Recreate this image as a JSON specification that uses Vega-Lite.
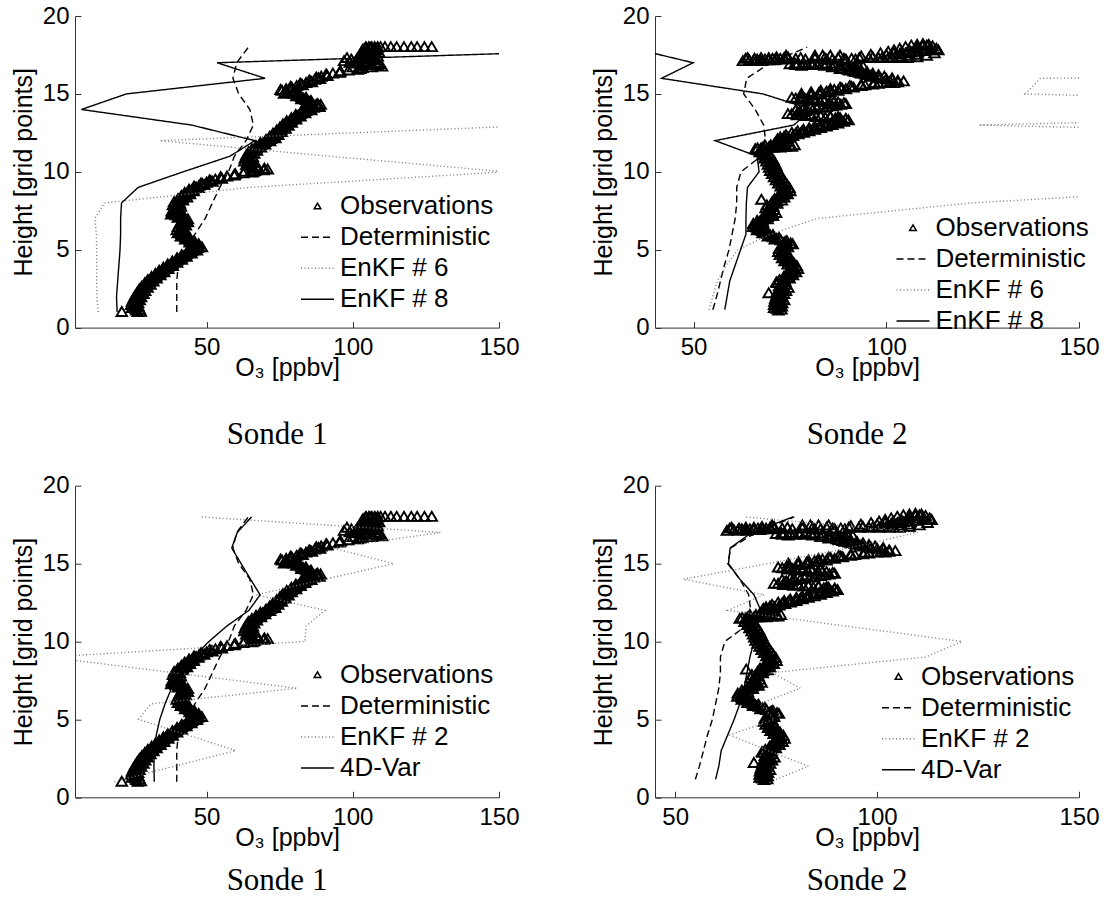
{
"$schema":"https://vega.github.io/schema/vega-lite/v6.json",
"background":"white",
"padding":{"left":11,"top":4,"right":0,"bottom":0},
"datasets":{
"o1":[{"h":1.0,"v":21},{"h":1.0,"v":26.5},{"h":1.02,"v":27.5},{"h":1.1,"v":26},{"h":1.2,"v":25.8},{"h":1.3,"v":25.5},{"h":1.4,"v":25.5},{"h":1.5,"v":25.3},{"h":1.6,"v":25.5},{"h":1.7,"v":25.8},{"h":1.8,"v":26},{"h":1.9,"v":26.3},{"h":2.0,"v":26.6},{"h":2.1,"v":27},{"h":2.2,"v":27.3},{"h":2.3,"v":27.6},{"h":2.4,"v":28},{"h":2.5,"v":28.4},{"h":2.6,"v":28.8},{"h":2.7,"v":29.3},{"h":2.8,"v":29.8},{"h":2.9,"v":30.3},{"h":3.0,"v":30.8},{"h":3.1,"v":31.4},{"h":3.2,"v":32},{"h":3.3,"v":32.7},{"h":3.4,"v":33.3},{"h":3.5,"v":34},{"h":3.6,"v":34.6},{"h":3.7,"v":35.3},{"h":3.8,"v":36},{"h":3.9,"v":36.8},{"h":4.0,"v":37.5},{"h":4.1,"v":38.3},{"h":4.2,"v":39.1},{"h":4.3,"v":39.9},{"h":4.4,"v":40.7},{"h":4.5,"v":41.5},{"h":4.6,"v":42.3},{"h":4.7,"v":43.1},{"h":4.8,"v":44},{"h":4.9,"v":45},{"h":5.0,"v":46},{"h":5.1,"v":47},{"h":5.2,"v":47.3},{"h":5.3,"v":46.5},{"h":5.4,"v":45.7},{"h":5.5,"v":45},{"h":5.6,"v":44.2},{"h":5.7,"v":43.5},{"h":5.8,"v":42.7},{"h":5.9,"v":42},{"h":6.0,"v":41.5},{"h":6.1,"v":41.2},{"h":6.2,"v":41},{"h":6.3,"v":41},{"h":6.4,"v":41.2},{"h":6.5,"v":41.5},{"h":6.6,"v":41.8},{"h":6.7,"v":42.2},{"h":6.8,"v":42.6},{"h":6.9,"v":42.8},{"h":7.0,"v":42},{"h":7.1,"v":40.8},{"h":7.2,"v":39.5},{"h":7.3,"v":38.6},{"h":7.4,"v":39},{"h":7.5,"v":39.6},{"h":7.6,"v":40},{"h":7.7,"v":40.2},{"h":7.8,"v":39.8},{"h":7.9,"v":39.6},{"h":8.0,"v":39.8},{"h":8.1,"v":40.4},{"h":8.2,"v":41},{"h":8.3,"v":41.8},{"h":8.4,"v":42.3},{"h":8.5,"v":42.8},{"h":8.6,"v":43.4},{"h":8.7,"v":44},{"h":8.8,"v":44.8},{"h":8.9,"v":45.5},{"h":9.0,"v":46.4},{"h":9.1,"v":47.4},{"h":9.2,"v":48.6},{"h":9.3,"v":50},{"h":9.4,"v":51.5},{"h":9.5,"v":53},{"h":9.6,"v":55},{"h":9.7,"v":57},{"h":9.8,"v":59.5},{"h":9.9,"v":62.5},{"h":10.0,"v":66},{"h":10.0,"v":63},{"h":10.1,"v":69.5},{"h":10.1,"v":65.5},{"h":10.2,"v":69.8},{"h":10.2,"v":67.5},{"h":10.3,"v":67},{"h":10.4,"v":65.2},{"h":10.5,"v":64.5},{"h":10.6,"v":64.2},{"h":10.7,"v":64},{"h":10.8,"v":64.2},{"h":10.9,"v":64.4},{"h":11.0,"v":64.7},{"h":11.1,"v":65},{"h":11.2,"v":65.3},{"h":11.3,"v":65.7},{"h":11.4,"v":66.3},{"h":11.5,"v":67},{"h":11.6,"v":67.7},{"h":11.7,"v":68.5},{"h":11.8,"v":69.2},{"h":11.9,"v":70},{"h":12.0,"v":71},{"h":12.1,"v":72},{"h":12.2,"v":72.6},{"h":12.3,"v":73.1},{"h":12.4,"v":73.6},{"h":12.5,"v":74.2},{"h":12.6,"v":74.8},{"h":12.7,"v":75.5},{"h":12.8,"v":76},{"h":12.9,"v":76.6},{"h":13.0,"v":77.1},{"h":13.1,"v":77.6},{"h":13.2,"v":78.3},{"h":13.3,"v":79},{"h":13.4,"v":79.8},{"h":13.5,"v":80.5},{"h":13.6,"v":81.3},{"h":13.7,"v":82.1},{"h":13.8,"v":83},{"h":13.9,"v":84},{"h":14.0,"v":85.2},{"h":14.1,"v":86.6},{"h":14.2,"v":88.3},{"h":14.2,"v":85.5},{"h":14.3,"v":87.5},{"h":14.3,"v":89},{"h":14.4,"v":86},{"h":14.5,"v":85},{"h":14.6,"v":84},{"h":14.7,"v":83.2},{"h":14.8,"v":82.4},{"h":14.9,"v":81.5},{"h":15.0,"v":79.5},{"h":15.0,"v":76.5},{"h":15.1,"v":77},{"h":15.1,"v":80},{"h":15.2,"v":75.8},{"h":15.2,"v":78.5},{"h":15.3,"v":77.2},{"h":15.4,"v":79},{"h":15.5,"v":80.8},{"h":15.6,"v":82.5},{"h":15.7,"v":84},{"h":15.8,"v":85.6},{"h":15.9,"v":87},{"h":16.0,"v":88.2},{"h":16.1,"v":89.2},{"h":16.2,"v":91},{"h":16.3,"v":93.2},{"h":16.4,"v":95.5},{"h":16.5,"v":98.5},{"h":16.6,"v":102.5},{"h":16.7,"v":106.5},{"h":16.7,"v":100},{"h":16.8,"v":108.5},{"h":16.8,"v":103},{"h":16.9,"v":104.5},{"h":16.9,"v":109},{"h":17.0,"v":99},{"h":17.0,"v":104},{"h":17.0,"v":108},{"h":17.1,"v":97},{"h":17.1,"v":101},{"h":17.1,"v":105},{"h":17.2,"v":99.5},{"h":17.2,"v":104},{"h":17.2,"v":108},{"h":17.3,"v":102.5},{"h":17.3,"v":98},{"h":17.3,"v":107},{"h":17.4,"v":104.5},{"h":17.4,"v":108.5},{"h":17.5,"v":106},{"h":17.5,"v":103.5},{"h":17.6,"v":107.5},{"h":17.6,"v":104},{"h":17.7,"v":106.5},{"h":17.7,"v":103},{"h":17.8,"v":105},{"h":17.8,"v":108},{"h":17.9,"v":104.2},{"h":17.95,"v":106},{"h":17.95,"v":108.5},{"h":18.0,"v":104.5},{"h":18.0,"v":105.5},{"h":18.0,"v":106.5},{"h":18.0,"v":107.5},{"h":18.0,"v":108.5},{"h":18.0,"v":109.5},{"h":18.0,"v":111},{"h":18.0,"v":113},{"h":18.0,"v":115},{"h":18.0,"v":117.5},{"h":18.0,"v":120},{"h":18.0,"v":122},{"h":18.0,"v":124.5},{"h":18.0,"v":127},
{"h":1.15,"v":27.1},{"h":1.25,"v":24.5},{"h":1.35,"v":26.7},{"h":1.45,"v":24.2},{"h":1.55,"v":26.6},{"h":1.65,"v":24.5},{"h":1.75,"v":27.1},{"h":1.85,"v":25},{"h":1.95,"v":27.6},{"h":2.05,"v":25.6},{"h":2.15,"v":28.4},{"h":2.25,"v":26.3},{"h":2.35,"v":29},{"h":2.45,"v":27},{"h":2.55,"v":29.8},{"h":2.65,"v":27.9},{"h":2.75,"v":30.8},{"h":2.85,"v":28.9},{"h":2.95,"v":31.8},{"h":3.05,"v":29.9},{"h":3.15,"v":32.9},{"h":3.25,"v":31.2},{"h":3.35,"v":34.2},{"h":3.45,"v":32.5},{"h":3.55,"v":35.5},{"h":3.65,"v":33.8},{"h":3.75,"v":36.9},{"h":3.85,"v":35.2},{"h":3.95,"v":38.4},{"h":4.05,"v":36.7},{"h":4.15,"v":39.9},{"h":4.25,"v":38.3},{"h":4.35,"v":41.5},{"h":4.45,"v":39.9},{"h":4.55,"v":43.1},{"h":4.65,"v":41.5},{"h":4.75,"v":44.8},{"h":4.85,"v":43.3},{"h":4.95,"v":46.7},{"h":5.05,"v":45.3},{"h":5.15,"v":48.4},{"h":5.25,"v":45.7},{"h":5.35,"v":47.3},{"h":5.45,"v":44.2},{"h":5.55,"v":45.8},{"h":5.65,"v":42.7},{"h":5.75,"v":44.3},{"h":5.85,"v":41.2},{"h":5.95,"v":43},{"h":6.05,"v":40.2},{"h":6.15,"v":42.3},{"h":6.25,"v":39.8},{"h":6.35,"v":42.3},{"h":6.45,"v":40.2},{"h":6.55,"v":42.9},{"h":6.65,"v":40.8},{"h":6.75,"v":43.6},{"h":6.85,"v":41.5},{"h":6.95,"v":43.6},{"h":7.05,"v":40.2},{"h":7.15,"v":41.4},{"h":7.25,"v":37.9},{"h":7.35,"v":40},{"h":7.45,"v":38.1},{"h":7.55,"v":41},{"h":7.65,"v":38.9},{"h":7.75,"v":41.2},{"h":7.85,"v":38.5},{"h":7.95,"v":40.9},{"h":8.05,"v":38.9},{"h":8.15,"v":41.9},{"h":8.25,"v":40.2},{"h":8.35,"v":43.3},{"h":8.45,"v":41.4},{"h":8.55,"v":44.3},{"h":8.65,"v":42.5},{"h":8.75,"v":45.6},{"h":8.85,"v":44},{"h":8.95,"v":47.2},{"h":9.05,"v":45.7},{"h":9.15,"v":49.2},{"h":9.25,"v":48.1},{"h":9.35,"v":52},{"h":9.45,"v":51},{"h":9.55,"v":55.2},{"h":9.65,"v":54.8},{"h":9.75,"v":59.5},{"h":9.85,"v":59.8},{"h":9.95,"v":65.5},{"h":10.05,"v":66.5},{"h":10.15,"v":70.9},{"h":10.25,"v":67.2},{"h":10.35,"v":67.3},{"h":10.45,"v":63.6},{"h":10.55,"v":65.5},{"h":10.65,"v":62.9},{"h":10.75,"v":65.3},{"h":10.85,"v":63.1},{"h":10.95,"v":65.8},{"h":11.05,"v":63.6},{"h":11.15,"v":66.3},{"h":11.25,"v":64.3},{"h":11.35,"v":67.2},{"h":11.45,"v":65.5},{"h":11.55,"v":68.6},{"h":11.65,"v":66.9},{"h":11.75,"v":70},{"h":11.85,"v":68.4},{"h":11.95,"v":71.7},{"h":12.05,"v":70.3},{"h":12.15,"v":73.5},{"h":12.25,"v":71.6},{"h":12.35,"v":74.5},{"h":12.45,"v":72.7},{"h":12.55,"v":75.7},{"h":12.65,"v":74},{"h":12.75,"v":77},{"h":12.85,"v":75.1},{"h":12.95,"v":78},{"h":13.05,"v":76.1},{"h":13.15,"v":79.1},{"h":13.25,"v":77.4},{"h":13.35,"v":80.6},{"h":13.45,"v":79},{"h":13.55,"v":82.1},{"h":13.65,"v":80.5},{"h":13.75,"v":83.7},{"h":13.85,"v":82.3},{"h":13.95,"v":85.8},{"h":14.05,"v":84.7},{"h":14.15,"v":88.6},{"h":14.25,"v":86.7},{"h":14.35,"v":88},{"h":14.45,"v":84.3},{"h":14.55,"v":85.7},{"h":14.65,"v":82.4},{"h":14.75,"v":84},{"h":14.85,"v":80.7},{"h":14.95,"v":81.7},{"h":15.05,"v":77},{"h":15.15,"v":77.6},{"h":15.25,"v":75.3},{"h":15.35,"v":79.3},{"h":15.45,"v":78.7},{"h":15.55,"v":82.8},{"h":15.65,"v":82},{"h":15.75,"v":86},{"h":15.85,"v":85.1},{"h":15.95,"v":88.8},{"h":16.05,"v":87.5},{"h":16.15,"v":91.3},{"h":16.25,"v":90.9},{"h":16.35,"v":95.5},{"h":16.45,"v":95.8},{"h":16.55,"v":101.7},{"h":16.65,"v":103.3},{"h":16.75,"v":110},{"h":16.85,"v":106.5},{"h":16.95,"v":101.5},{"h":17.05,"v":102},{"h":17.15,"v":107},{"h":17.25,"v":101.5},{"h":17.35,"v":105},{"h":17.45,"v":106.5},{"h":17.55,"v":105},{"h":17.65,"v":109},{"h":17.75,"v":107},{"h":17.85,"v":103.5},{"h":17.9,"v":107.5}],
"o2":[{"h":1.1,"v":72},{"h":1.2,"v":71.6},{"h":1.3,"v":72.2},{"h":1.4,"v":71.6},{"h":1.5,"v":72.2},{"h":1.6,"v":71.7},{"h":1.7,"v":72.3},{"h":1.8,"v":72.6},{"h":1.9,"v":71.8},{"h":2.0,"v":72.2},{"h":2.1,"v":72.8},{"h":2.2,"v":69.5},{"h":2.3,"v":72.6},{"h":2.4,"v":73.3},{"h":2.5,"v":73.7},{"h":2.6,"v":73.4},{"h":2.7,"v":73},{"h":2.8,"v":72.6},{"h":2.9,"v":71.5},{"h":3.0,"v":73},{"h":3.1,"v":73.6},{"h":3.2,"v":74.2},{"h":3.3,"v":74.6},{"h":3.4,"v":75},{"h":3.5,"v":75.4},{"h":3.6,"v":75.7},{"h":3.7,"v":76},{"h":3.8,"v":76.2},{"h":3.9,"v":76},{"h":4.0,"v":75.6},{"h":4.1,"v":75.2},{"h":4.2,"v":74.8},{"h":4.3,"v":74.4},{"h":4.4,"v":74.1},{"h":4.5,"v":73.8},{"h":4.6,"v":73.5},{"h":4.7,"v":73.3},{"h":4.8,"v":73.1},{"h":4.9,"v":73},{"h":5.0,"v":73},{"h":5.1,"v":73.3},{"h":5.2,"v":73.7},{"h":5.3,"v":74.2},{"h":5.4,"v":75.2},{"h":5.5,"v":73.8},{"h":5.6,"v":72.6},{"h":5.7,"v":71.6},{"h":5.8,"v":70.7},{"h":5.9,"v":69.9},{"h":6.0,"v":69.2},{"h":6.1,"v":68.5},{"h":6.2,"v":67.8},{"h":6.3,"v":67.1},{"h":6.4,"v":66.5},{"h":6.5,"v":66.2},{"h":6.6,"v":66.3},{"h":6.7,"v":66.7},{"h":6.8,"v":67.2},{"h":6.9,"v":67.8},{"h":7.0,"v":68.5},{"h":7.1,"v":69.2},{"h":7.2,"v":69.9},{"h":7.3,"v":70.5},{"h":7.4,"v":70.3},{"h":7.5,"v":70},{"h":7.6,"v":69.7},{"h":7.7,"v":69.6},{"h":7.8,"v":69.8},{"h":7.9,"v":70.3},{"h":8.0,"v":71},{"h":8.1,"v":71.7},{"h":8.2,"v":67.6},{"h":8.3,"v":72.2},{"h":8.4,"v":72.7},{"h":8.5,"v":73.2},{"h":8.6,"v":73.6},{"h":8.7,"v":74},{"h":8.8,"v":74.2},{"h":8.9,"v":74},{"h":9.0,"v":73.7},{"h":9.1,"v":73.4},{"h":9.2,"v":73.1},{"h":9.3,"v":72.8},{"h":9.4,"v":72.5},{"h":9.5,"v":72.3},{"h":9.6,"v":72},{"h":9.7,"v":71.8},{"h":9.8,"v":71.5},{"h":9.9,"v":71.3},{"h":10.0,"v":71},{"h":10.1,"v":70.8},{"h":10.2,"v":70.6},{"h":10.3,"v":70.5},{"h":10.4,"v":70.4},{"h":10.5,"v":70.2},{"h":10.6,"v":70},{"h":10.7,"v":69.8},{"h":10.8,"v":69.5},{"h":10.9,"v":69.2},{"h":11.0,"v":69},{"h":11.1,"v":68.7},{"h":11.2,"v":68.4},{"h":11.3,"v":68},{"h":11.4,"v":67.4},{"h":11.5,"v":66.6},{"h":11.55,"v":68},{"h":11.55,"v":69.5},{"h":11.55,"v":71},{"h":11.55,"v":72.5},{"h":11.6,"v":74},{"h":11.6,"v":75.5},{"h":11.7,"v":70},{"h":11.75,"v":72.5},{"h":11.8,"v":71},{"h":11.9,"v":71.8},{"h":12.0,"v":72.5},{"h":12.1,"v":73.3},{"h":12.2,"v":74.5},{"h":12.3,"v":75.8},{"h":12.4,"v":77.2},{"h":12.5,"v":78.6},{"h":12.6,"v":80},{"h":12.7,"v":81.5},{"h":12.8,"v":83},{"h":12.9,"v":84.5},{"h":13.0,"v":86},{"h":13.1,"v":87.5},{"h":13.2,"v":89},{"h":13.3,"v":90.2},{"h":13.45,"v":88},{"h":13.5,"v":85.5},{"h":13.55,"v":83},{"h":13.6,"v":80.5},{"h":13.65,"v":78},{"h":13.7,"v":75.5},{"h":13.8,"v":77},{"h":13.9,"v":79},{"h":14.0,"v":81},{"h":14.1,"v":83.5},{"h":14.2,"v":86},{"h":14.3,"v":88.2},{"h":14.4,"v":89},{"h":14.5,"v":86.5},{"h":14.55,"v":84},{"h":14.6,"v":81.5},{"h":14.65,"v":79},{"h":14.7,"v":76.5},{"h":14.75,"v":75.5},{"h":14.8,"v":78},{"h":14.9,"v":80.5},{"h":15.0,"v":83},{"h":15.1,"v":85.5},{"h":15.2,"v":87.5},{"h":15.3,"v":89.5},{"h":15.4,"v":91.5},{"h":15.5,"v":93.5},{"h":15.6,"v":96.5},{"h":15.7,"v":100},{"h":15.75,"v":103},{"h":15.8,"v":104.5},{"h":15.9,"v":101.5},{"h":16.0,"v":98.5},{"h":16.1,"v":96.5},{"h":16.2,"v":95},{"h":16.3,"v":93.5},{"h":16.4,"v":92},{"h":16.5,"v":90.5},{"h":16.6,"v":88},{"h":16.7,"v":86},{"h":16.75,"v":94},{"h":16.8,"v":84},{"h":16.8,"v":92},{"h":16.85,"v":82},{"h":16.85,"v":79.5},{"h":16.85,"v":90},{"h":16.9,"v":77},{"h":16.9,"v":75},{"h":16.95,"v":80.5},{"h":16.95,"v":83.5},{"h":16.95,"v":86.5},{"h":17.1,"v":62.8},{"h":17.1,"v":65.5},{"h":17.15,"v":64.5},{"h":17.15,"v":69.5},{"h":17.2,"v":66.5},{"h":17.2,"v":68.5},{"h":17.2,"v":71.5},{"h":17.25,"v":70.5},{"h":17.25,"v":72.5},{"h":17.3,"v":64},{"h":17.3,"v":67.5},{"h":17.35,"v":74.5},{"h":17.2,"v":79},{"h":17.2,"v":86},{"h":17.2,"v":89.5},{"h":17.45,"v":74},{"h":17.45,"v":81.5},{"h":17.45,"v":83.5},{"h":17.45,"v":85.5},{"h":17.45,"v":88},{"h":17.25,"v":91},{"h":17.3,"v":93},{"h":17.3,"v":95.5},{"h":17.3,"v":98},{"h":17.3,"v":100.5},{"h":17.3,"v":103},{"h":17.3,"v":105.5},{"h":17.35,"v":108},{"h":17.45,"v":110.5},{"h":17.6,"v":112.5},{"h":17.8,"v":113.5},{"h":17.4,"v":93.5},{"h":17.5,"v":96},{"h":17.6,"v":98.5},{"h":17.7,"v":100.5},{"h":17.8,"v":102},{"h":17.9,"v":103.5},{"h":18.0,"v":105},{"h":18.1,"v":106.5},{"h":18.15,"v":108},{"h":18.2,"v":109.5},{"h":18.15,"v":111},{"h":18.05,"v":112},{"h":17.9,"v":113},{"h":17.6,"v":105},{"h":17.7,"v":108},{"h":17.9,"v":110},
{"h":1.15,"v":72.8},{"h":1.25,"v":70.9},{"h":1.35,"v":72.9},{"h":1.45,"v":70.9},{"h":1.55,"v":73},{"h":1.65,"v":71},{"h":1.75,"v":73.5},{"h":1.85,"v":71.2},{"h":1.95,"v":73},{"h":2.05,"v":71.5},{"h":2.15,"v":73.5},{"h":2.25,"v":71.6},{"h":2.35,"v":74},{"h":2.45,"v":72.5},{"h":2.55,"v":74.6},{"h":2.65,"v":72.2},{"h":2.75,"v":73.8},{"h":2.85,"v":71.7},{"h":2.95,"v":73.8},{"h":3.05,"v":72.3},{"h":3.15,"v":74.9},{"h":3.25,"v":73.4},{"h":3.35,"v":75.8},{"h":3.45,"v":74.2},{"h":3.55,"v":76.6},{"h":3.65,"v":74.9},{"h":3.75,"v":77.1},{"h":3.85,"v":75.1},{"h":3.95,"v":76.8},{"h":4.05,"v":74.4},{"h":4.15,"v":76},{"h":4.25,"v":73.6},{"h":4.35,"v":75.3},{"h":4.45,"v":73},{"h":4.55,"v":74.7},{"h":4.65,"v":72.4},{"h":4.75,"v":74.2},{"h":4.85,"v":72},{"h":4.95,"v":74},{"h":5.05,"v":72.2},{"h":5.15,"v":74.5},{"h":5.25,"v":73},{"h":5.35,"v":75.7},{"h":5.45,"v":73.5},{"h":5.55,"v":74.2},{"h":5.65,"v":71.1},{"h":5.75,"v":72.2},{"h":5.85,"v":69.3},{"h":5.95,"v":70.6},{"h":6.05,"v":67.9},{"h":6.15,"v":69.2},{"h":6.25,"v":66.5},{"h":6.35,"v":67.8},{"h":6.45,"v":65.4},{"h":6.55,"v":67.3},{"h":6.65,"v":65.5},{"h":6.75,"v":68},{"h":6.85,"v":66.5},{"h":6.95,"v":69.2},{"h":7.05,"v":67.9},{"h":7.15,"v":70.6},{"h":7.25,"v":69.2},{"h":7.35,"v":71.4},{"h":7.45,"v":69.2},{"h":7.55,"v":70.9},{"h":7.65,"v":68.7},{"h":7.75,"v":70.7},{"h":7.85,"v":69},{"h":7.95,"v":71.7},{"h":8.05,"v":70.4},{"h":8.15,"v":72.9},{"h":8.25,"v":71},{"h":8.35,"v":73.5},{"h":8.45,"v":72},{"h":8.55,"v":74.4},{"h":8.65,"v":72.8},{"h":8.75,"v":75.1},{"h":8.85,"v":73.1},{"h":8.95,"v":74.9},{"h":9.05,"v":72.6},{"h":9.15,"v":74.3},{"h":9.25,"v":72},{"h":9.35,"v":73.7},{"h":9.45,"v":71.4},{"h":9.55,"v":73.2},{"h":9.65,"v":70.9},{"h":9.75,"v":72.7},{"h":9.85,"v":70.4},{"h":9.95,"v":72.2},{"h":10.05,"v":69.9},{"h":10.15,"v":71.7},{"h":10.25,"v":69.6},{"h":10.35,"v":71.5},{"h":10.45,"v":69.3},{"h":10.55,"v":71.1},{"h":10.65,"v":68.9},{"h":10.75,"v":70.7},{"h":10.85,"v":68.4},{"h":10.95,"v":70.1},{"h":11.05,"v":67.9},{"h":11.15,"v":69.6},{"h":11.25,"v":67.2},{"h":11.35,"v":68.7},{"h":11.45,"v":66},
{"h":11.5,"v":67.5},{"h":11.55,"v":70.2},{"h":11.6,"v":71.8},{"h":11.65,"v":73.2},{"h":11.65,"v":75},{"h":11.7,"v":76.2},{"h":11.7,"v":68.5},
{"h":12.2,"v":72.5},{"h":12.35,"v":74},{"h":12.5,"v":75.5},{"h":12.6,"v":77},{"h":12.7,"v":78.5},{"h":12.8,"v":80},{"h":12.9,"v":81.5},{"h":13.0,"v":83},{"h":13.1,"v":84.5},{"h":13.2,"v":86},{"h":13.3,"v":87.5},{"h":13.4,"v":89.5},
{"h":13.42,"v":86.8},{"h":13.47,"v":84.2},{"h":13.52,"v":81.8},{"h":13.57,"v":79.3},{"h":13.62,"v":76.8},{"h":13.7,"v":74.5},
{"h":13.95,"v":76.5},{"h":14.05,"v":78.5},{"h":14.15,"v":80.5},{"h":14.25,"v":82.5},{"h":14.35,"v":85},{"h":14.45,"v":87.5},
{"h":14.47,"v":85.3},{"h":14.52,"v":82.8},{"h":14.57,"v":80.2},{"h":14.62,"v":77.8},
{"h":15.0,"v":78},{"h":15.1,"v":80.5},{"h":15.2,"v":83},{"h":15.3,"v":85.5},{"h":15.4,"v":88},{"h":15.5,"v":90.5},{"h":15.6,"v":93.5},{"h":15.7,"v":97},{"h":15.78,"v":101},
{"h":16.0,"v":101.5},{"h":16.1,"v":99.5},{"h":16.2,"v":98},{"h":16.3,"v":96.5},{"h":16.4,"v":95},{"h":16.5,"v":93.5},{"h":16.6,"v":92},{"h":16.7,"v":90.5},
{"h":16.8,"v":86.5},{"h":16.85,"v":88},{"h":16.9,"v":84.5},{"h":16.95,"v":78.5},{"h":16.9,"v":81},{"h":16.95,"v":76.3},
{"h":17.15,"v":67.3},{"h":17.25,"v":63.5},{"h":17.25,"v":65.8},{"h":17.3,"v":69.5},{"h":17.35,"v":71.5},{"h":17.3,"v":73.5},{"h":17.1,"v":67.8},{"h":17.15,"v":71},{"h":17.2,"v":73.8},{"h":17.25,"v":76.5},{"h":17.3,"v":77.8},{"h":17.25,"v":81.5},{"h":17.3,"v":84},{"h":17.2,"v":84.5},{"h":17.3,"v":87.5},{"h":17.25,"v":89},{"h":17.2,"v":92},{"h":17.35,"v":96.5},{"h":17.35,"v":99},{"h":17.35,"v":101.5},{"h":17.4,"v":104},{"h":17.45,"v":106},{"h":17.5,"v":108},{"h":17.55,"v":103.5},{"h":17.65,"v":106.5},{"h":17.75,"v":110},{"h":17.8,"v":111.5},{"h":18.0,"v":108},{"h":18.05,"v":109.5},{"h":18.1,"v":110.5},{"h":17.95,"v":111.5},
{"h":12.1,"v":71.8},{"h":12.25,"v":73.5},{"h":12.45,"v":76.5},{"h":12.55,"v":78},{"h":12.75,"v":81},{"h":12.85,"v":82.5},{"h":13.05,"v":85.5},{"h":13.15,"v":87},{"h":13.25,"v":88.5},{"h":13.35,"v":89.5},
{"h":13.5,"v":87.5},{"h":13.55,"v":85.5},{"h":13.6,"v":83},{"h":13.65,"v":80.5},{"h":13.7,"v":78},
{"h":13.85,"v":77.5},{"h":13.95,"v":79.5},{"h":14.05,"v":82},{"h":14.15,"v":84.5},{"h":14.25,"v":87},{"h":14.35,"v":89.5},
{"h":14.6,"v":86},{"h":14.65,"v":83.5},{"h":14.7,"v":81},{"h":14.75,"v":78.5},
{"h":14.95,"v":80.5},{"h":15.05,"v":82.5},{"h":15.15,"v":84.5},{"h":15.25,"v":86.5},{"h":15.35,"v":88.5},{"h":15.45,"v":91},{"h":15.55,"v":94.5},{"h":15.65,"v":98},{"h":15.7,"v":102},
{"h":15.85,"v":103},{"h":15.95,"v":100},{"h":16.05,"v":98},{"h":16.15,"v":96},{"h":16.25,"v":94.5},{"h":16.35,"v":93},{"h":16.45,"v":91.5},{"h":16.55,"v":90},{"h":16.65,"v":88.5},
{"h":16.75,"v":88},{"h":16.8,"v":90},{"h":16.85,"v":76.5},{"h":16.8,"v":78},{"h":16.9,"v":92.5},
{"h":17.5,"v":100},{"h":17.6,"v":102},{"h":17.7,"v":104},{"h":17.8,"v":106},{"h":17.9,"v":108}],
"l1":[{"s":"Deterministic","h":1,"v":39.8},{"s":"Deterministic","h":2,"v":39.8},{"s":"Deterministic","h":3,"v":39.8},{"s":"Deterministic","h":4,"v":40.3},{"s":"Deterministic","h":5,"v":42.8},{"s":"Deterministic","h":6,"v":46},{"s":"Deterministic","h":7,"v":49.5},{"s":"Deterministic","h":8,"v":52},{"s":"Deterministic","h":9,"v":54.5},{"s":"Deterministic","h":10,"v":57.5},{"s":"Deterministic","h":11,"v":59.5},{"s":"Deterministic","h":12,"v":63.5},{"s":"Deterministic","h":13,"v":66},{"s":"Deterministic","h":14,"v":64.8},{"s":"Deterministic","h":15,"v":61},{"s":"Deterministic","h":16,"v":59},{"s":"Deterministic","h":17,"v":60.3},{"s":"Deterministic","h":18,"v":64.3},
{"s":"EnKF # 6","h":1,"v":12.9},{"s":"EnKF # 6","h":2,"v":12.5},{"s":"EnKF # 6","h":3,"v":12.4},{"s":"EnKF # 6","h":4,"v":12.4},{"s":"EnKF # 6","h":5,"v":12.4},{"s":"EnKF # 6","h":6,"v":12.3},{"s":"EnKF # 6","h":7,"v":11.8},{"s":"EnKF # 6","h":8,"v":15},{"s":"EnKF # 6","h":9,"v":65},{"s":"EnKF # 6","h":10,"v":152},{"s":"EnKF # 6","h":11,"v":92},{"s":"EnKF # 6","h":12,"v":34},{"s":"EnKF # 6","h":13,"v":166},{"s":"EnKF # 6","h":14,"v":260},{"s":"EnKF # 6","h":15,"v":300},{"s":"EnKF # 6","h":16,"v":280},{"s":"EnKF # 6","h":17,"v":250},{"s":"EnKF # 6","h":18,"v":230},
{"s":"EnKF # 8","h":1,"v":19.4},{"s":"EnKF # 8","h":2,"v":19.2},{"s":"EnKF # 8","h":3,"v":19.6},{"s":"EnKF # 8","h":4,"v":20},{"s":"EnKF # 8","h":5,"v":20.4},{"s":"EnKF # 8","h":6,"v":20.6},{"s":"EnKF # 8","h":7,"v":20.6},{"s":"EnKF # 8","h":8,"v":20.9},{"s":"EnKF # 8","h":9,"v":26.6},{"s":"EnKF # 8","h":10,"v":42},{"s":"EnKF # 8","h":11,"v":58},{"s":"EnKF # 8","h":12,"v":66.5},{"s":"EnKF # 8","h":13,"v":44.9},{"s":"EnKF # 8","h":14,"v":7.2},{"s":"EnKF # 8","h":15,"v":22.6},{"s":"EnKF # 8","h":16,"v":70},{"s":"EnKF # 8","h":17,"v":53.6},{"s":"EnKF # 8","h":18,"v":220}],
"l2":[{"s":"Deterministic","h":1.15,"v":55},{"s":"Deterministic","h":2,"v":56},{"s":"Deterministic","h":3,"v":57},{"s":"Deterministic","h":4,"v":58},{"s":"Deterministic","h":5,"v":59.2},{"s":"Deterministic","h":6,"v":60},{"s":"Deterministic","h":7,"v":60.8},{"s":"Deterministic","h":8,"v":61.2},{"s":"Deterministic","h":9,"v":61.2},{"s":"Deterministic","h":10,"v":62.3},{"s":"Deterministic","h":11,"v":67.5},{"s":"Deterministic","h":12,"v":68.7},{"s":"Deterministic","h":13,"v":68.2},{"s":"Deterministic","h":14,"v":66},{"s":"Deterministic","h":15,"v":63},{"s":"Deterministic","h":16,"v":63.8},{"s":"Deterministic","h":17,"v":70},{"s":"Deterministic","h":18,"v":79.5},
{"s":"EnKF # 6","h":1.15,"v":54},{"s":"EnKF # 6","h":2,"v":55},{"s":"EnKF # 6","h":3,"v":56.2},{"s":"EnKF # 6","h":4,"v":58.5},{"s":"EnKF # 6","h":5,"v":61.5},{"s":"EnKF # 6","h":6,"v":70},{"s":"EnKF # 6","h":7,"v":82},{"s":"EnKF # 6","h":8,"v":122},{"s":"EnKF # 6","h":9,"v":192},{"s":"EnKF # 6","h":10,"v":260},{"s":"EnKF # 6","h":11,"v":300},{"s":"EnKF # 6","h":12,"v":297},{"s":"EnKF # 6","h":13,"v":124},{"s":"EnKF # 6","h":14,"v":290},{"s":"EnKF # 6","h":15,"v":136},{"s":"EnKF # 6","h":16,"v":140},{"s":"EnKF # 6","h":17,"v":600},{"s":"EnKF # 6","h":18,"v":700},
{"s":"EnKF # 8","h":1.15,"v":58.1},{"s":"EnKF # 8","h":2,"v":58.7},{"s":"EnKF # 8","h":3,"v":59.4},{"s":"EnKF # 8","h":4,"v":60.8},{"s":"EnKF # 8","h":5,"v":62.2},{"s":"EnKF # 8","h":6,"v":63.6},{"s":"EnKF # 8","h":7,"v":63.6},{"s":"EnKF # 8","h":8,"v":63.7},{"s":"EnKF # 8","h":9,"v":64},{"s":"EnKF # 8","h":10,"v":67},{"s":"EnKF # 8","h":11,"v":66.5},{"s":"EnKF # 8","h":12,"v":55.6},{"s":"EnKF # 8","h":13,"v":76},{"s":"EnKF # 8","h":14,"v":80.7},{"s":"EnKF # 8","h":15,"v":68},{"s":"EnKF # 8","h":16,"v":41.7},{"s":"EnKF # 8","h":17,"v":49.9},{"s":"EnKF # 8","h":18,"v":33}],
"l3":[{"s":"Deterministic","h":1,"v":39.8},{"s":"Deterministic","h":2,"v":39.8},{"s":"Deterministic","h":3,"v":39.8},{"s":"Deterministic","h":4,"v":40.3},{"s":"Deterministic","h":5,"v":42.8},{"s":"Deterministic","h":6,"v":46},{"s":"Deterministic","h":7,"v":49.5},{"s":"Deterministic","h":8,"v":52},{"s":"Deterministic","h":9,"v":54.5},{"s":"Deterministic","h":10,"v":57.5},{"s":"Deterministic","h":11,"v":59.5},{"s":"Deterministic","h":12,"v":63.5},{"s":"Deterministic","h":13,"v":66},{"s":"Deterministic","h":14,"v":64.8},{"s":"Deterministic","h":15,"v":61},{"s":"Deterministic","h":16,"v":59},{"s":"Deterministic","h":17,"v":60.3},{"s":"Deterministic","h":18,"v":64.3},
{"s":"EnKF # 2","h":1,"v":18.5},{"s":"EnKF # 2","h":2,"v":39},{"s":"EnKF # 2","h":3,"v":60},{"s":"EnKF # 2","h":4,"v":43.5},{"s":"EnKF # 2","h":5,"v":26.7},{"s":"EnKF # 2","h":6,"v":31},{"s":"EnKF # 2","h":7,"v":81},{"s":"EnKF # 2","h":8,"v":38.5},{"s":"EnKF # 2","h":9,"v":-4},{"s":"EnKF # 2","h":10,"v":83.7},{"s":"EnKF # 2","h":11,"v":84},{"s":"EnKF # 2","h":12,"v":90.5},{"s":"EnKF # 2","h":13,"v":67},{"s":"EnKF # 2","h":14,"v":90.5},{"s":"EnKF # 2","h":15,"v":114},{"s":"EnKF # 2","h":16,"v":93},{"s":"EnKF # 2","h":17,"v":130},{"s":"EnKF # 2","h":18,"v":47.7},
{"s":"4D-Var","h":1,"v":32.1},{"s":"4D-Var","h":2,"v":32},{"s":"4D-Var","h":3,"v":32.1},{"s":"4D-Var","h":4,"v":32.8},{"s":"4D-Var","h":5,"v":34},{"s":"4D-Var","h":6,"v":35.8},{"s":"4D-Var","h":7,"v":38},{"s":"4D-Var","h":8,"v":41.5},{"s":"4D-Var","h":9,"v":45.5},{"s":"4D-Var","h":10,"v":50.8},{"s":"4D-Var","h":11,"v":57},{"s":"4D-Var","h":12,"v":64.5},{"s":"4D-Var","h":13,"v":68.3},{"s":"4D-Var","h":14,"v":65},{"s":"4D-Var","h":15,"v":61.8},{"s":"4D-Var","h":16,"v":58.6},{"s":"4D-Var","h":17,"v":60.5},{"s":"4D-Var","h":18,"v":65.4}],
"l4":[{"s":"Deterministic","h":1.15,"v":55},{"s":"Deterministic","h":2,"v":56},{"s":"Deterministic","h":3,"v":57},{"s":"Deterministic","h":4,"v":58},{"s":"Deterministic","h":5,"v":59.2},{"s":"Deterministic","h":6,"v":60},{"s":"Deterministic","h":7,"v":60.8},{"s":"Deterministic","h":8,"v":61.2},{"s":"Deterministic","h":9,"v":61.2},{"s":"Deterministic","h":10,"v":62.3},{"s":"Deterministic","h":11,"v":67.5},{"s":"Deterministic","h":12,"v":68.7},{"s":"Deterministic","h":13,"v":68.2},{"s":"Deterministic","h":14,"v":66},{"s":"Deterministic","h":15,"v":63},{"s":"Deterministic","h":16,"v":63.8},{"s":"Deterministic","h":17,"v":70},{"s":"Deterministic","h":18,"v":79.5},
{"s":"EnKF # 2","h":1.15,"v":75},{"s":"EnKF # 2","h":2,"v":83},{"s":"EnKF # 2","h":3,"v":73},{"s":"EnKF # 2","h":4,"v":63.5},{"s":"EnKF # 2","h":5,"v":74.5},{"s":"EnKF # 2","h":6,"v":71},{"s":"EnKF # 2","h":7,"v":81},{"s":"EnKF # 2","h":8,"v":74},{"s":"EnKF # 2","h":9,"v":112},{"s":"EnKF # 2","h":10,"v":121},{"s":"EnKF # 2","h":11,"v":92},{"s":"EnKF # 2","h":12,"v":63},{"s":"EnKF # 2","h":13,"v":72},{"s":"EnKF # 2","h":14,"v":52},{"s":"EnKF # 2","h":15,"v":73},{"s":"EnKF # 2","h":16,"v":93},{"s":"EnKF # 2","h":17,"v":110},{"s":"EnKF # 2","h":18,"v":67},
{"s":"4D-Var","h":1.15,"v":60},{"s":"4D-Var","h":2,"v":60.8},{"s":"4D-Var","h":3,"v":61.4},{"s":"4D-Var","h":4,"v":63},{"s":"4D-Var","h":5,"v":64.6},{"s":"4D-Var","h":6,"v":66},{"s":"4D-Var","h":7,"v":67},{"s":"4D-Var","h":8,"v":67.8},{"s":"4D-Var","h":9,"v":68.5},{"s":"4D-Var","h":10,"v":69.5},{"s":"4D-Var","h":11,"v":70.3},{"s":"4D-Var","h":12,"v":71.2},{"s":"4D-Var","h":13,"v":69.5},{"s":"4D-Var","h":14,"v":66},{"s":"4D-Var","h":15,"v":63.2},{"s":"4D-Var","h":16,"v":63.6},{"s":"4D-Var","h":17,"v":69},{"s":"4D-Var","h":18,"v":79.2}]
},
"columns":2,
"spacing":{"row":157.7,"column":156},
"bounds":"flush",
"concat":[
{"width":424,"height":311.6,
 "title":{"text":"Sonde 1","orient":"bottom","frame":"group","anchor":"middle","dx":-10,"offset":63,"baseline":"alphabetic","font":"Liberation Serif","fontSize":31,"fontWeight":"normal","color":"#000"},
 "encoding":{"x":{"field":"v","type":"quantitative","scale":{"domain":[5,150],"nice":false,"zero":false},"axis":{"values":[50,100,150],"title":"O₃ [ppbv]"}},
  "y":{"field":"h","type":"quantitative","scale":{"domain":[0,20],"nice":false,"zero":false},"axis":{"values":[0,5,10,15,20],"title":"Height [grid points]"}}},
 "layer":[
  {"data":{"name":"o1"},"mark":{"type":"point","filled":false,"size":2800,"strokeWidth":1.9,"opacity":1,"clip":true},
   "encoding":{"shape":{"datum":"Observations","type":"nominal","scale":{"domain":["Observations","Deterministic","EnKF # 6","EnKF # 8"],"range":["M0,-0.19L0.2,0.15L-0.2,0.15Z","stroke","stroke","stroke"]},"legend":{"title":null,"legendX":225,"legendY":172.8}},
    "color":{"datum":"Observations","type":"nominal","scale":{"domain":["Observations","Deterministic","EnKF # 6","EnKF # 8"],"range":["#000000","#000000","#7a7a7a","#000000"]},"legend":{"title":null,"legendX":225,"legendY":172.8}}}},
  {"data":{"name":"l1"},"mark":{"type":"line","clip":true,"strokeWidth":1.4},
   "encoding":{"order":{"field":"h","type":"quantitative"},
    "color":{"field":"s","type":"nominal","scale":{"domain":["Observations","Deterministic","EnKF # 6","EnKF # 8"],"range":["#000000","#000000","#7a7a7a","#000000"]},"legend":{"title":null,"legendX":225,"legendY":172.8}},
    "strokeDash":{"field":"s","type":"nominal","scale":{"domain":["Observations","Deterministic","EnKF # 6","EnKF # 8"],"range":[[1,0],[7,4],[1,2.5],[1,0]]},"legend":{"title":null,"legendX":225,"legendY":172.8}}}}
 ]},
{"width":424,"height":311.6,
 "title":{"text":"Sonde 2","orient":"bottom","frame":"group","anchor":"middle","dx":-10,"offset":63,"baseline":"alphabetic","font":"Liberation Serif","fontSize":31,"fontWeight":"normal","color":"#000"},
 "encoding":{"x":{"field":"v","type":"quantitative","scale":{"domain":[40,150],"nice":false,"zero":false},"axis":{"values":[50,100,150],"title":"O₃ [ppbv]"}},
  "y":{"field":"h","type":"quantitative","scale":{"domain":[0,20],"nice":false,"zero":false},"axis":{"values":[0,5,10,15,20],"title":"Height [grid points]"}}},
 "layer":[
  {"data":{"name":"o2"},"mark":{"type":"point","filled":false,"size":2800,"strokeWidth":1.9,"opacity":1,"clip":true},
   "encoding":{"shape":{"datum":"Observations","type":"nominal","scale":{"domain":["Observations","Deterministic","EnKF # 6","EnKF # 8"],"range":["M0,-0.19L0.2,0.15L-0.2,0.15Z","stroke","stroke","stroke"]},"legend":{"title":null,"legendX":240.5,"legendY":194.5}},
    "color":{"datum":"Observations","type":"nominal","scale":{"domain":["Observations","Deterministic","EnKF # 6","EnKF # 8"],"range":["#000000","#000000","#7a7a7a","#000000"]},"legend":{"title":null,"legendX":240.5,"legendY":194.5}}}},
  {"data":{"name":"l2"},"mark":{"type":"line","clip":true,"strokeWidth":1.4},
   "encoding":{"order":{"field":"h","type":"quantitative"},
    "color":{"field":"s","type":"nominal","scale":{"domain":["Observations","Deterministic","EnKF # 6","EnKF # 8"],"range":["#000000","#000000","#7a7a7a","#000000"]},"legend":{"title":null,"legendX":240.5,"legendY":194.5}},
    "strokeDash":{"field":"s","type":"nominal","scale":{"domain":["Observations","Deterministic","EnKF # 6","EnKF # 8"],"range":[[1,0],[7,4],[1,2.5],[1,0]]},"legend":{"title":null,"legendX":240.5,"legendY":194.5}}}}
 ]},
{"width":424,"height":311.6,
 "title":{"text":"Sonde 1","orient":"bottom","frame":"group","anchor":"middle","dx":-10,"offset":40,"baseline":"alphabetic","font":"Liberation Serif","fontSize":31,"fontWeight":"normal","color":"#000"},
 "encoding":{"x":{"field":"v","type":"quantitative","scale":{"domain":[5,150],"nice":false,"zero":false},"axis":{"values":[50,100,150],"title":"O₃ [ppbv]"}},
  "y":{"field":"h","type":"quantitative","scale":{"domain":[0,20],"nice":false,"zero":false},"axis":{"values":[0,5,10,15,20],"title":"Height [grid points]"}}},
 "layer":[
  {"data":{"name":"o1"},"mark":{"type":"point","filled":false,"size":2800,"strokeWidth":1.9,"opacity":1,"clip":true},
   "encoding":{"shape":{"datum":"Observations","type":"nominal","scale":{"domain":["Observations","Deterministic","EnKF # 2","4D-Var"],"range":["M0,-0.19L0.2,0.15L-0.2,0.15Z","stroke","stroke","stroke"]},"legend":{"title":null,"legendX":225,"legendY":171.8}},
    "color":{"datum":"Observations","type":"nominal","scale":{"domain":["Observations","Deterministic","EnKF # 2","4D-Var"],"range":["#000000","#000000","#7a7a7a","#000000"]},"legend":{"title":null,"legendX":225,"legendY":171.8}}}},
  {"data":{"name":"l3"},"mark":{"type":"line","clip":true,"strokeWidth":1.4},
   "encoding":{"order":{"field":"h","type":"quantitative"},
    "color":{"field":"s","type":"nominal","scale":{"domain":["Observations","Deterministic","EnKF # 2","4D-Var"],"range":["#000000","#000000","#7a7a7a","#000000"]},"legend":{"title":null,"legendX":225,"legendY":171.8}},
    "strokeDash":{"field":"s","type":"nominal","scale":{"domain":["Observations","Deterministic","EnKF # 2","4D-Var"],"range":[[1,0],[7,4],[1,2.5],[1,0]]},"legend":{"title":null,"legendX":225,"legendY":171.8}}}}
 ]},
{"width":424,"height":311.6,
 "title":{"text":"Sonde 2","orient":"bottom","frame":"group","anchor":"middle","dx":-10,"offset":40,"baseline":"alphabetic","font":"Liberation Serif","fontSize":31,"fontWeight":"normal","color":"#000"},
 "encoding":{"x":{"field":"v","type":"quantitative","scale":{"domain":[45,150],"nice":false,"zero":false},"axis":{"values":[50,100,150],"title":"O₃ [ppbv]"}},
  "y":{"field":"h","type":"quantitative","scale":{"domain":[0,20],"nice":false,"zero":false},"axis":{"values":[0,5,10,15,20],"title":"Height [grid points]"}}},
 "layer":[
  {"data":{"name":"o2"},"mark":{"type":"point","filled":false,"size":2800,"strokeWidth":1.9,"opacity":1,"clip":true},
   "encoding":{"shape":{"datum":"Observations","type":"nominal","scale":{"domain":["Observations","Deterministic","EnKF # 2","4D-Var"],"range":["M0,-0.19L0.2,0.15L-0.2,0.15Z","stroke","stroke","stroke"]},"legend":{"title":null,"legendX":226,"legendY":173.5}},
    "color":{"datum":"Observations","type":"nominal","scale":{"domain":["Observations","Deterministic","EnKF # 2","4D-Var"],"range":["#000000","#000000","#7a7a7a","#000000"]},"legend":{"title":null,"legendX":226,"legendY":173.5}}}},
  {"data":{"name":"l4"},"mark":{"type":"line","clip":true,"strokeWidth":1.4},
   "encoding":{"order":{"field":"h","type":"quantitative"},
    "color":{"field":"s","type":"nominal","scale":{"domain":["Observations","Deterministic","EnKF # 2","4D-Var"],"range":["#000000","#000000","#7a7a7a","#000000"]},"legend":{"title":null,"legendX":226,"legendY":173.5}},
    "strokeDash":{"field":"s","type":"nominal","scale":{"domain":["Observations","Deterministic","EnKF # 2","4D-Var"],"range":[[1,0],[7,4],[1,2.5],[1,0]]},"legend":{"title":null,"legendX":226,"legendY":173.5}}}}
 ]}
],
"resolve":{"scale":{"x":"independent","y":"independent","color":"independent","shape":"independent","strokeDash":"independent"},"legend":{"color":"independent","shape":"independent","strokeDash":"independent"}},
"config":{
 "view":{"stroke":null},
 "axis":{"grid":false,"domainColor":"#333333","tickColor":"#333333","tickSize":-6,"domainWidth":1,"tickWidth":1,"labelFont":"Liberation Sans","labelFontSize":24,"labelColor":"#000000","titleFont":"Liberation Sans","titleFontSize":25,"titleFontWeight":"normal","titleColor":"#000000"},
 "axisX":{"labelPadding":14,"titleY":48,"titleBaseline":"alphabetic","labelFlush":false},
 "axisY":{"labelPadding":12,"titleX":-44,"titleBaseline":"alphabetic"},
 "legend":{"orient":"none","labelFont":"Liberation Sans","labelFontSize":26,"labelColor":"#000000","symbolSize":1089,"symbolStrokeWidth":1.5,"rowPadding":-2.4,"labelOffset":5,"padding":0}
}
}
